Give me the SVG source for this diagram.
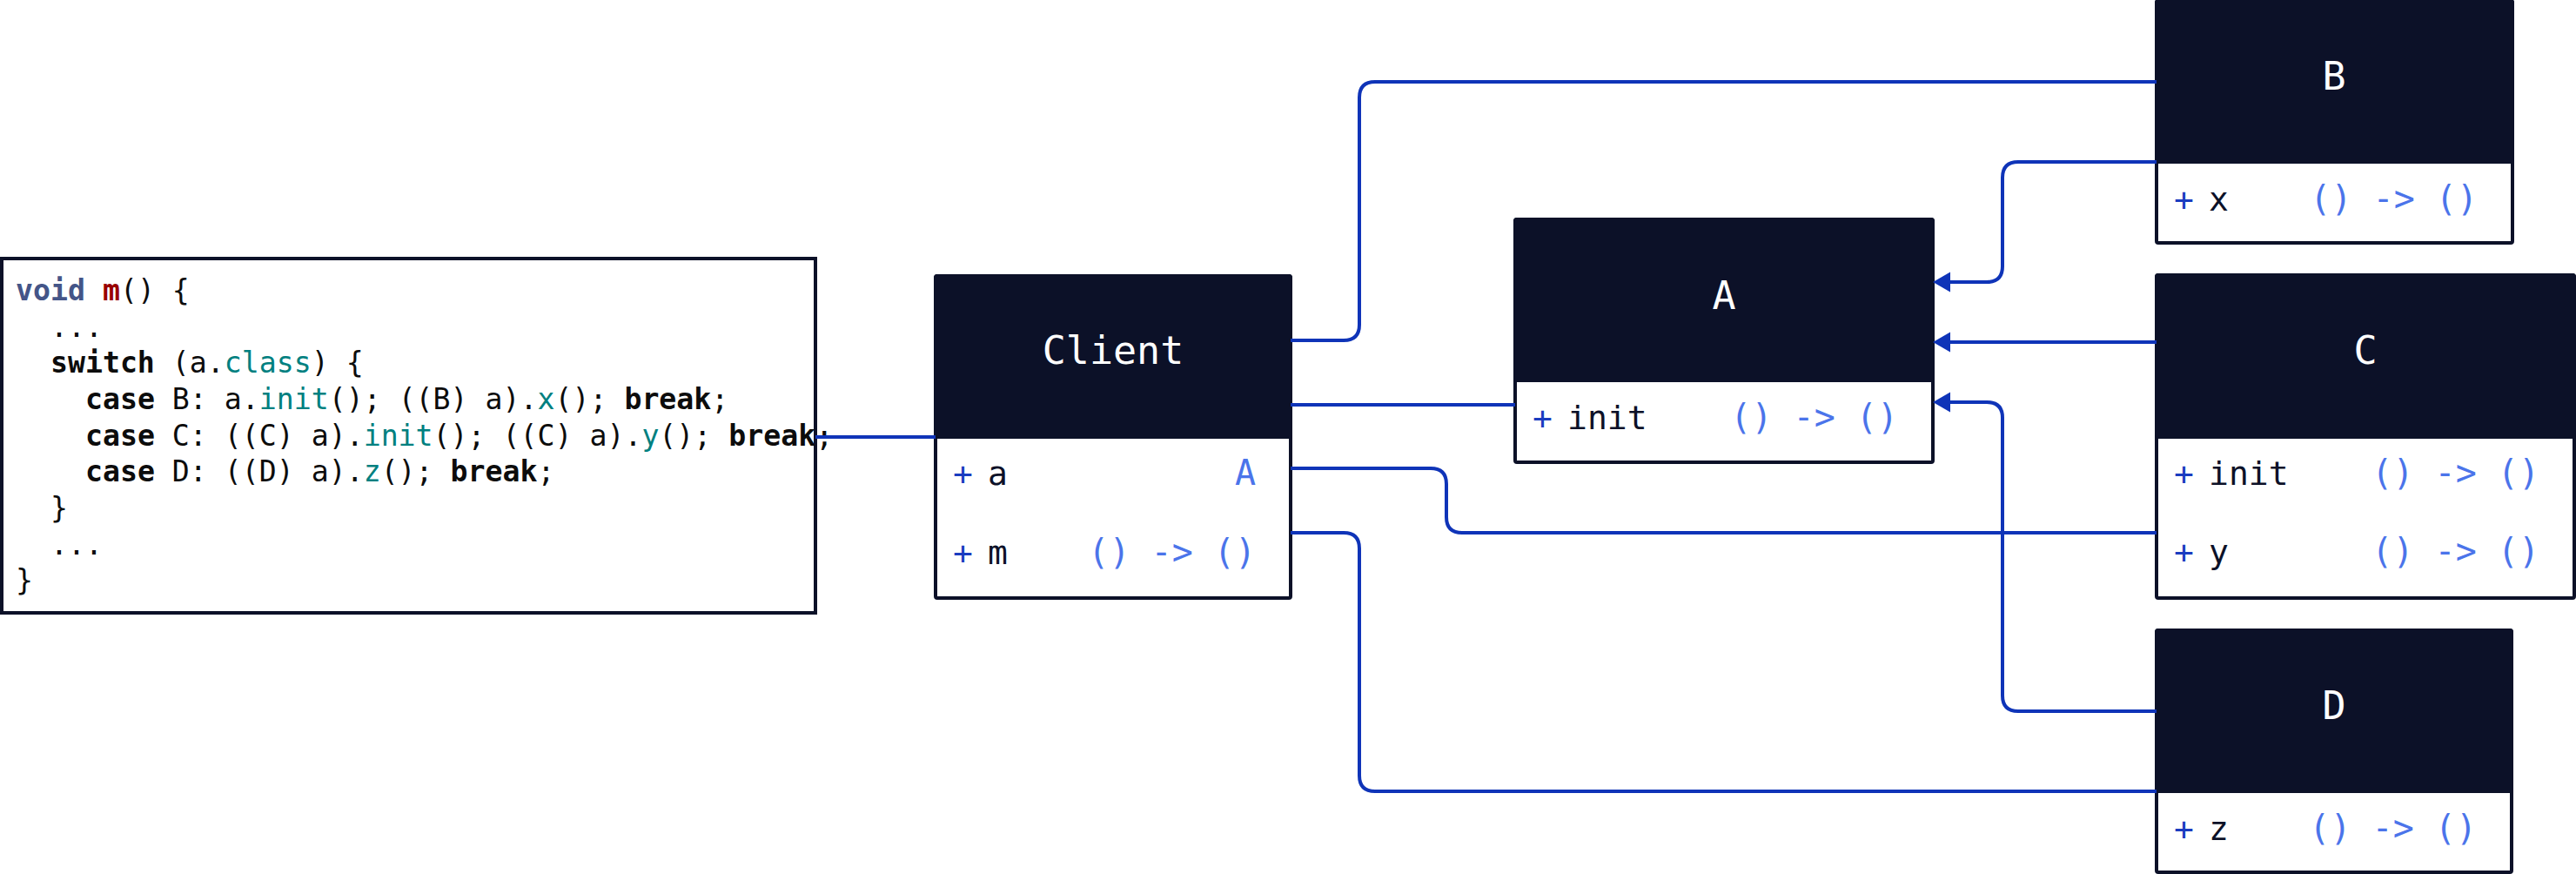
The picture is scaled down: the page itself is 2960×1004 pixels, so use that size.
<svg xmlns="http://www.w3.org/2000/svg" width="2960" height="1004" viewBox="0 0 2960 1004">
<defs>
<style>
.box{fill:#ffffff;stroke:#0c1128;stroke-width:4}
.hdr{fill:#0c1128;stroke:#0c1128;stroke-width:4}
.title{font-family:"DejaVu Sans Mono","Liberation Mono",monospace;font-size:45px;fill:#ffffff;text-anchor:middle}
.plus{font-family:"DejaVu Sans Mono","Liberation Mono",monospace;font-size:38px;fill:#1a3cc0}
.name{font-family:"DejaVu Sans Mono","Liberation Mono",monospace;font-size:38px;fill:#0c1128}
.type{font-family:"DejaVu Sans Mono","Liberation Mono",monospace;font-size:40px;fill:#4b74ea;text-anchor:end}
.code{font-family:"DejaVu Sans Mono","Liberation Mono",monospace;font-size:33.2px;fill:#0c0c0c;white-space:pre}
.kw{font-weight:bold}
.kt{font-weight:bold;fill:#445588}
.fn{font-weight:bold;fill:#990000}
.tl{fill:#008080}
.edge{fill:none;stroke:#0f34b8;stroke-width:4}
</style>
<marker id="arr" markerUnits="userSpaceOnUse" markerWidth="20" markerHeight="24" viewBox="0 0 19 22" refX="2" refY="11" orient="auto">
<path d="M0,0 L19,11 L0,22 Z" fill="#0f34b8"/>
</marker>
</defs>
<rect width="2960" height="1004" fill="#ffffff"/>

<g id="code">
<rect class="box" x="2" y="297" width="935" height="407"/>
<text class="code" xml:space="preserve" x="18" y="345"><tspan class="kt">void</tspan> <tspan class="fn">m</tspan>() {</text>
<text class="code" xml:space="preserve" x="18" y="387">  ...</text>
<text class="code" xml:space="preserve" x="18" y="428">  <tspan class="kw">switch</tspan> (a.<tspan class="tl">class</tspan>) {</text>
<text class="code" xml:space="preserve" x="18" y="470">    <tspan class="kw">case</tspan> B: a.<tspan class="tl">init</tspan>(); ((B) a).<tspan class="tl">x</tspan>(); <tspan class="kw">break</tspan>;</text>
<text class="code" xml:space="preserve" x="18" y="512">    <tspan class="kw">case</tspan> C: ((C) a).<tspan class="tl">init</tspan>(); ((C) a).<tspan class="tl">y</tspan>(); <tspan class="kw">break</tspan>;</text>
<text class="code" xml:space="preserve" x="18" y="553">    <tspan class="kw">case</tspan> D: ((D) a).<tspan class="tl">z</tspan>(); <tspan class="kw">break</tspan>;</text>
<text class="code" xml:space="preserve" x="18" y="595">  }</text>
<text class="code" xml:space="preserve" x="18" y="637">  ...</text>
<text class="code" xml:space="preserve" x="18" y="678">}</text>
</g>

<g id="client">
<rect class="box" x="1075" y="317" width="408" height="370" rx="2"/>
<rect class="hdr" x="1075" y="317" width="408" height="185" rx="2"/>
<text class="title" x="1279" y="418">Client</text>
<text class="plus" x="1095" y="557">+</text>
<text class="name" x="1135" y="557">a</text>
<text class="type" x="1443" y="557">A</text>
<text class="plus" x="1095" y="648">+</text>
<text class="name" x="1135" y="648">m</text>
<text class="type" x="1443" y="648">() -&gt; ()</text>
</g>

<g id="A">
<rect class="box" x="1741" y="252" width="480" height="279" rx="2"/>
<rect class="hdr" x="1741" y="252" width="480" height="185" rx="2"/>
<text class="title" x="1981" y="355">A</text>
<text class="plus" x="1761" y="493">+</text>
<text class="name" x="1801" y="493">init</text>
<text class="type" x="2181" y="493">() -&gt; ()</text>
</g>

<g id="B">
<rect class="box" x="2478" y="1" width="409" height="278" rx="2"/>
<rect class="hdr" x="2478" y="1" width="409" height="185" rx="2"/>
<text class="title" x="2682" y="103">B</text>
<text class="plus" x="2498" y="242">+</text>
<text class="name" x="2538" y="242">x</text>
<text class="type" x="2847" y="242">() -&gt; ()</text>
</g>

<g id="C">
<rect class="box" x="2478" y="316" width="480" height="371" rx="2"/>
<rect class="hdr" x="2478" y="316" width="480" height="186" rx="2"/>
<text class="title" x="2718" y="418">C</text>
<text class="plus" x="2498" y="557">+</text>
<text class="name" x="2538" y="557">init</text>
<text class="type" x="2918" y="557">() -&gt; ()</text>
<text class="plus" x="2498" y="647">+</text>
<text class="name" x="2538" y="647">y</text>
<text class="type" x="2918" y="647">() -&gt; ()</text>
</g>

<g id="D">
<rect class="box" x="2478" y="724" width="408" height="278" rx="2"/>
<rect class="hdr" x="2478" y="724" width="408" height="185" rx="2"/>
<text class="title" x="2682" y="826">D</text>
<text class="plus" x="2498" y="965">+</text>
<text class="name" x="2538" y="965">z</text>
<text class="type" x="2846" y="965">() -&gt; ()</text>
</g>

<g id="connectors">
<path class="edge" d="M937,502 H1075"/>
<path class="edge" d="M1483,391 H1544 Q1562,391 1562,373 V112 Q1562,94 1580,94 H2478"/>
<path class="edge" d="M1483,465 H1741"/>
<path class="edge" d="M1483,538 H1644 Q1662,538 1662,556 V594 Q1662,612 1680,612 H2478"/>
<path class="edge" d="M1483,612 H1544 Q1562,612 1562,630 V891 Q1562,909 1580,909 H2478"/>
<path class="edge" marker-end="url(#arr)" d="M2478,186 H2319 Q2301,186 2301,204 V306 Q2301,324 2283,324 H2239"/>
<path class="edge" marker-end="url(#arr)" d="M2478,393 H2239"/>
<path class="edge" marker-end="url(#arr)" d="M2478,817 H2319 Q2301,817 2301,799 V480 Q2301,462 2283,462 H2239"/>
</g>
</svg>
